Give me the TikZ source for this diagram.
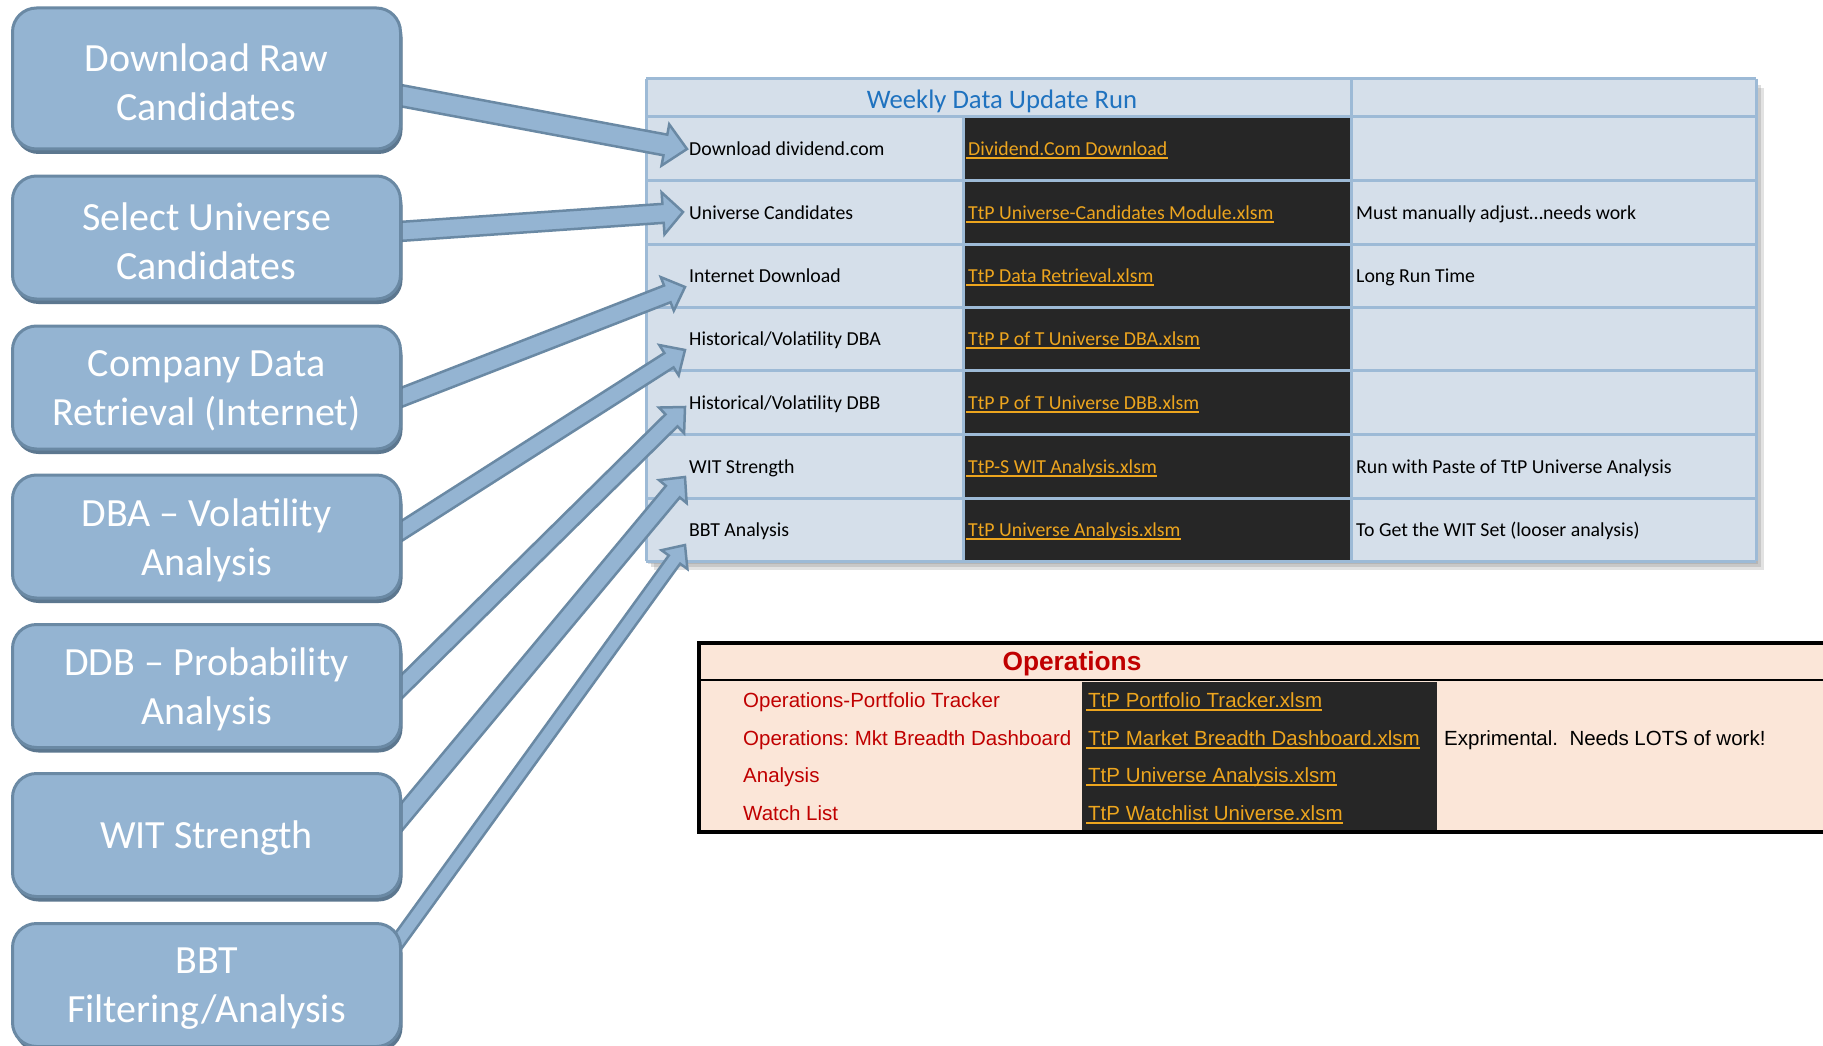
\documentclass[tikz,border=0pt]{standalone}
\usepackage{fontspec}
\setmainfont{Carlito}
\newfontfamily\arialf{Liberation Sans}
\usetikzlibrary{calc,shadows}
\frenchspacing
\definecolor{boxface}{HTML}{94B4D2}
\definecolor{boxedge}{HTML}{6A89A4}
\definecolor{boxshadow}{HTML}{5C778F}
\definecolor{tabfill}{HTML}{D5DFEA}
\definecolor{tabline}{HTML}{9DBAD6}
\definecolor{darkcell}{HTML}{262626}
\definecolor{gold}{HTML}{EDA51E}
\definecolor{hdrblue}{HTML}{1F72BF}
\definecolor{opsfill}{HTML}{FBE6D8}
\definecolor{opsred}{HTML}{C00000}
\newcommand{\blockarr}[5]{%
  \coordinate (h#2) at ($(#2)!#5!(#1)$);
  \draw[arrowshape] ($(#1)!#3!90:(#2)$) -- ($(h#2)!#3!90:(#2)$) -- ($(h#2)!#4!90:(#2)$) -- (#2)
     -- ($(h#2)!#4!-90:(#2)$) -- ($(h#2)!#3!-90:(#2)$) -- ($(#1)!#3!-90:(#2)$) -- cycle;}
\begin{document}
\begin{tikzpicture}[x=1pt,y=-1pt,
  boxnode/.style={rectangle, rounded corners=24pt, fill=boxface, draw=boxedge, line width=3pt,
     minimum width=388pt, inner sep=0pt,
     general shadow={fill=boxshadow, shadow xshift=2pt, shadow yshift=-5pt}},
  boxlabel/.style={text=white, font=\fontsize{40}{49}\selectfont, align=center, inner sep=0pt, yshift=-3.5pt},
  arrowshape/.style={fill=boxface, draw=boxedge, line width=2.5pt, line join=miter},
  grid/.style={draw=tabline, line width=3pt},
  cell/.style={anchor=west, inner sep=0pt, text height=0.64em, text depth=0pt, yshift=-4pt, font=\fontsize{19.8}{22}\selectfont},
  lnkcell/.style={cell, text=gold},
  opscell/.style={anchor=west, inner sep=0pt, text height=0.72em, text depth=0pt, yshift=-3.5pt, font=\arialf\fontsize{20.5}{23}\selectfont},
  ulink/.style={draw=gold, line width=1.6pt}
]
\useasboundingbox (0,0) rectangle (1823,1046);
\clip (0,0) rectangle (1823,1046);
\fill[white] (0,0) rectangle (1823,1046);

% ---------- Weekly table ----------
\fill[black!45, opacity=0.25] (654,88) rectangle (1764,570);
\fill[black!45, opacity=0.3] (651,85) rectangle (1761,567);
\fill[black!45, opacity=0.3] (648,82) rectangle (1758,564);
\fill[tabfill] (646,79) rectangle (1756,561);
\fill[darkcell] (963,117) rectangle (1351,561);
\foreach \yy in {79,117,180,244,307,370,434,498,561}
  \draw[grid] (646,\yy) -- (1756,\yy);
\draw[grid] (646,79) -- (646,561);
\draw[grid] (1351,79) -- (1351,561);
\draw[grid] (1756,79) -- (1756,561);
\draw[grid] (963,117) -- (963,561);

\node[font=\fontsize{26.7}{30}\selectfont, text=hdrblue, inner sep=0pt, text height=0.64em, text depth=0pt] (hdr) at (1002,105) {Weekly Data Update Run};

\foreach \i/\yy/\ca/\cb/\cc in {
  1/148.5/{Download dividend.com}/{Dividend.Com Download}/{},
  2/212/{Universe Candidates}/{TtP Universe-Candidates Module.xlsm}/{Must manually adjust…needs work},
  3/275.5/{Internet Download}/{TtP Data Retrieval.xlsm}/{Long Run Time},
  4/338.5/{Historical/Volatility DBA}/{TtP P of T Universe DBA.xlsm}/{},
  5/402/{Historical/Volatility DBB}/{TtP P of T Universe DBB.xlsm}/{},
  6/466/{WIT Strength}/{TtP-S WIT Analysis.xlsm}/{Run with Paste of TtP Universe Analysis},
  7/529.5/{BBT Analysis}/{TtP Universe Analysis.xlsm}/{To Get the WIT Set (looser analysis)}}{
  \node[cell] (ca\i) at (689,\yy) {\ca};
  \node[lnkcell] (cb\i) at (968,\yy) {\cb};
  \draw[ulink] ([xshift=-2pt,yshift=-2.5pt]cb\i.base west) -- ([yshift=-2.5pt]cb\i.base east);
  \node[cell] (cc\i) at (1356,\yy) {\cc};
}

% ---------- Operations table ----------
\fill[opsfill] (699,643) rectangle (1830,832);
\fill[darkcell] (1082,682) rectangle (1437,830);
\draw[black, line width=3.5pt] (1830,643) -- (699,643) -- (699,832) -- (1830,832);
\draw[black, line width=2.5pt] (699,680) -- (1830,680);
\node[font=\arialf\bfseries\fontsize{26.3}{30}\selectfont, text=opsred, inner sep=0pt, text height=0.72em, text depth=0pt] (opshdr) at (1072,667) {Operations};
\foreach \i/\yy/\ca/\cb in {
  1/700/{Operations-Portfolio Tracker}/{TtP Portfolio Tracker.xlsm},
  2/738/{Operations: Mkt Breadth Dashboard}/{TtP Market Breadth Dashboard.xlsm},
  3/775/{Analysis}/{TtP Universe Analysis.xlsm},
  4/813/{Watch List}/{TtP Watchlist Universe.xlsm}}{
  \node[opscell, text=opsred] (oa\i) at (743,\yy) {\ca};
  \node[opscell, text=gold] (ob\i) at (1088,\yy) {\cb};
  \draw[ulink] ([xshift=-2pt,yshift=-3pt]ob\i.base west) -- ([yshift=-3pt]ob\i.base east);
}
\node[opscell] (oc2) at (1444,738) {Exprimental.\ \ Needs LOTS of work!};

% ---------- Arrows ----------
\coordinate (s1) at (392,94);   \coordinate (t1) at (687,149);
\coordinate (s2) at (392,232);  \coordinate (t2) at (683,212);
\coordinate (s3) at (392,401);  \coordinate (t3) at (685,287);
\coordinate (s4) at (392,537);  \coordinate (t4) at (685,350);
\coordinate (s5) at (392,696);  \coordinate (t5) at (685,407);
\coordinate (s6) at (394,826);  \coordinate (t6) at (685,477);
\coordinate (s7) at (394,947);  \coordinate (t7) at (685,545);
\blockarr{s1}{t1}{10.5pt}{21pt}{22pt}
\blockarr{s2}{t2}{9.5pt}{21pt}{20pt}
\blockarr{s3}{t3}{9pt}{18pt}{19pt}
\blockarr{s4}{t4}{8.5pt}{18pt}{19pt}
\blockarr{s5}{t5}{8.5pt}{18pt}{19pt}
\blockarr{s6}{t6}{9pt}{18pt}{19pt}
\blockarr{s7}{t7}{7pt}{16pt}{18pt}

% ---------- Boxes ----------
\node[boxnode, minimum height=141pt, label={[boxlabel]center:Download Raw\\Candidates}] (b1) at (206.5,78.5) {};
\node[boxnode, minimum height=123pt, label={[boxlabel]center:Select Universe\\Candidates}] (b2) at (206.5,237.5) {};
\node[boxnode, minimum height=123pt, label={[boxlabel]center:Company Data\\Retrieval (Internet)}] (b3) at (206.5,387.5) {};
\node[boxnode, minimum height=123pt, label={[boxlabel]center:DBA – Volatility\\Analysis}] (b4) at (206.5,536.5) {};
\node[boxnode, minimum height=123pt, label={[boxlabel]center:DDB – Probability\\Analysis}] (b5) at (206.5,686) {};
\node[boxnode, minimum height=123pt, label={[boxlabel]center:WIT Strength}] (b6) at (206.5,835) {};
\node[boxnode, minimum height=123pt, label={[boxlabel]center:BBT\\Filtering/Analysis}] (b7) at (206.5,985) {};
\end{tikzpicture}
\end{document}
